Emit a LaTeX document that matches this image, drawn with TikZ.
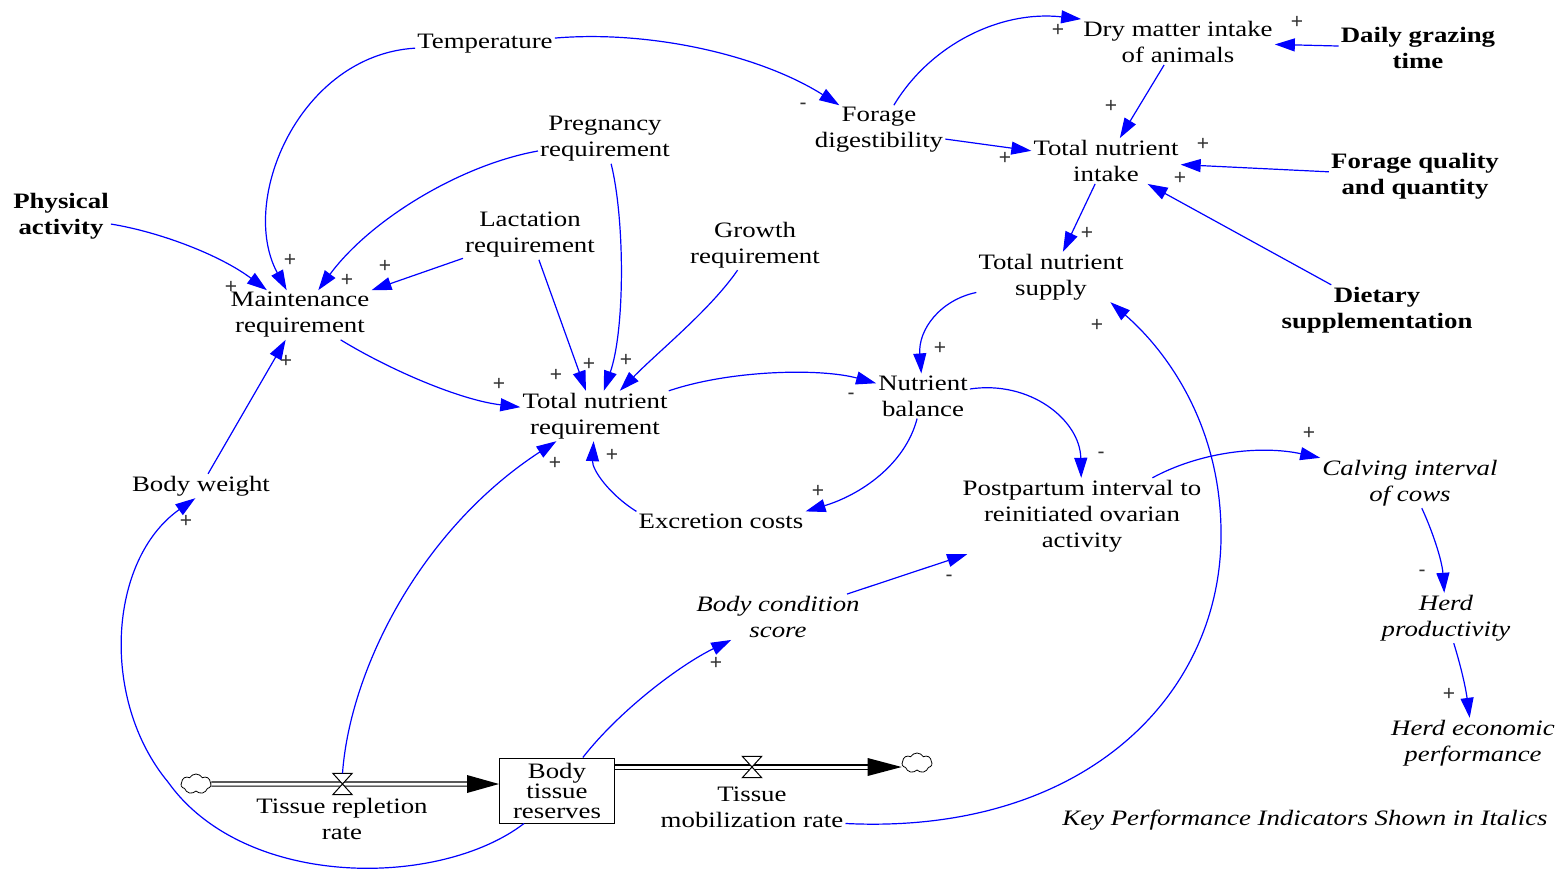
\documentclass[tikz,border=0pt]{standalone}
\usepackage{fontspec}
\setmainfont{Liberation Serif}[FakeStretch=1.22]
\newfontfamily\signfont{Liberation Sans}
\usetikzlibrary{arrows.meta,shapes.symbols,calc}
\tikzset{
  var/.style={align=center, inner sep=2pt, yshift=-3pt, font=\fontsize{22}{26}\selectfont},
  kpi/.style={var, font=\fontsize{22}{26}\selectfont\itshape},
  exo/.style={var, font=\fontsize{22}{26}\selectfont\bfseries},
  flowlabel/.style={align=center, inner sep=2pt, font=\fontsize{22}{26}\selectfont},
  stock/.style={draw, line width=1pt, align=center, inner sep=0pt, minimum width=115pt, minimum height=65pt, font=\fontsize{22}{20}\selectfont},
  link/.style={draw=blue, line width=1.2pt, -{Triangle[length=20pt,width=13pt]}},
  sign/.style={font=\signfont\fontsize{21}{21}\selectfont, text=black!80, inner sep=0pt},
  pipe/.style={draw, double, double distance=3pt, line width=1.2pt},
  cloudy/.style={cloud, draw, line width=0.8pt, cloud puffs=7, cloud puff arc=120, aspect=1.4, minimum width=30pt, minimum height=20pt, inner sep=0pt},
  valve/.style={minimum width=19pt, minimum height=21pt, inner sep=0pt}
}
\begin{document}
\begin{tikzpicture}[x=1pt,y=-1pt]
\useasboundingbox (0,0) rectangle (1564,868);
% variables
\node[var] (temp) at (485,41) {Temperature};
\node[var] (dmi) at (1178,39) {Dry matter intake\\of animals};
\node[exo] (dgt) at (1418,45) {Daily grazing\\time};
\node[var] (forage) at (879,127) {Forage\\digestibility};
\node[var] (tni) at (1106,158) {Total nutrient\\intake};
\node[exo] (fqq) at (1415,173) {Forage quality\\and quantity};
\node[var] (preg) at (605,136) {Pregnancy\\requirement};
\node[exo] (phys) at (61,213) {Physical\\activity};
\node[var] (lact) at (530,232) {Lactation\\requirement};
\node[var] (growth) at (755,242) {Growth\\requirement};
\node[var] (tns) at (1051,274) {Total nutrient\\supply};
\node[exo] (diet) at (1377,307) {Dietary\\supplementation};
\node[var] (maint) at (300,312) {Maintenance\\requirement};
\node[var] (nb) at (923,393) {Nutrient\\balance};
\node[var] (tnr) at (595,413) {Total nutrient\\requirement};
\node[kpi] (calv) at (1410,480) {Calving interval\\of cows};
\node[var] (bw) at (201,483) {Body weight};
\node[var] (ppi) at (1082,513) {Postpartum interval to\\reinitiated ovarian\\activity};
\node[var] (exc) at (721,518) {Excretion costs};
\node[kpi] (bcs) at (778,614) {Body condition\\score};
\node[kpi] (herd) at (1446,615) {Herd\\productivity};
\node[kpi] (hep) at (1473,740) {Herd economic\\performance};
\node[stock] (btr) at (557,790.5) {Body\\tissue\\reserves};
\node[flowlabel] (trr) at (342,819) {Tissue repletion\\rate};
\node[flowlabel] (tmr) at (752,807) {Tissue\\mobilization rate};
\node[kpi] (key) at (1305,817) {Key Performance Indicators Shown in Italics};
% clouds and valves
\node[cloudy] (cloudL) at (196,784) {};
\node[cloudy] (cloudR) at (917,763) {};
\node[valve] (valveL) at (342.5,784) {};
\node[valve] (valveR) at (752,767) {};
% flows
\draw[pipe] (cloudL.east) -- ($(btr.west |- valveL)+(-30,0)$);
\fill ($(btr.west |- valveL)+(-32,-9)$) -- (btr.west |- valveL) -- ($(btr.west |- valveL)+(-32,9)$) -- cycle;
\draw[pipe] (btr.east |- valveR) -- ($(cloudR.west |- valveR)+(-30,0)$);
\fill ($(cloudR.west |- valveR)+(-34,-9)$) -- (cloudR.west |- valveR) -- ($(cloudR.west |- valveR)+(-34,9)$) -- cycle;
\draw[fill=white, line width=1pt] (valveL.north west) -- (valveL.north east) -- (valveL.south west) -- (valveL.south east) -- cycle;
\draw[fill=white, line width=1pt] (valveR.north west) -- (valveR.north east) -- (valveR.south west) -- (valveR.south east) -- cycle;
% links
\draw[link] (temp) .. controls (300,55) and (238,200) .. (maint);
\draw[link] (temp) .. controls (650,30) and (760,55) .. (forage.148);
\draw[link] (forage) .. controls (930,45) and (1000,10) .. (dmi.north west);
\draw[link] (dgt) -- (dmi);
\draw[link] (dmi) -- (tni);
\draw[link] (forage) -- (tni);
\draw[link] (fqq) -- (tni);
\draw[link] (diet) -- (tni);
\draw[link] (tni) -- (tns);
\draw[link] (tns) .. controls (940,300) and (918,330) .. (nb);
\draw[link] (tmr.-10) .. controls (1080,835) and (1218,700) .. (1221,540) .. controls (1223,420) and (1160,345) .. (tns.-23);
\draw[link] (preg) .. controls (460,165) and (370,220) .. (maint);
\draw[link] (preg) .. controls (625,220) and (625,330) .. (tnr);
\draw[link] (lact) -- (maint);
\draw[link] (lact) -- (tnr);
\draw[link] (growth) .. controls (710,310) and (660,350) .. (tnr);
\draw[link] (phys) .. controls (160,232) and (220,255) .. (maint);
\draw[link] (bw) -- (maint);
\draw[link] (maint) .. controls (390,370) and (460,400) .. (tnr);
\draw[link] (tnr) .. controls (730,370) and (820,368) .. (nb);
\draw[link] (nb) .. controls (905,465) and (860,495) .. (exc.north east);
\draw[link] (exc.north west) .. controls (610,495) and (592,470) .. (tnr);
\draw[link] (valveL.north) .. controls (350,670) and (420,530) .. (tnr);
\draw[link] (nb) .. controls (1030,380) and (1080,420) .. (ppi);
\draw[link] (bcs) -- (ppi);
\draw[link] (btr) .. controls (620,710) and (680,665) .. (bcs);
\draw[link] (btr.-135) .. controls (440,888) and (245,890) .. (168,782) .. controls (100,700) and (108,560) .. (bw.-115);
\draw[link] (ppi) .. controls (1200,452) and (1260,445) .. (calv.north west);
\draw[link] (calv) .. controls (1432,530) and (1442,560) .. (herd);
\draw[link] (herd) .. controls (1462,670) and (1466,690) .. (hep);
% polarity signs
\node[sign] (s1) at (290,260) {+};
\node[sign] (s2) at (803,106) {-};
\node[sign] (s3) at (1058,30) {+};
\node[sign] (s4) at (1297,22) {+};
\node[sign] (s5) at (1111,106) {+};
\node[sign] (s6) at (1005,158) {+};
\node[sign] (s7) at (1203,144) {+};
\node[sign] (s8) at (1180,178) {+};
\node[sign] (s9) at (1087,233) {+};
\node[sign] (s10) at (940,348) {+};
\node[sign] (s11) at (1097,325) {+};
\node[sign] (s12) at (347,280) {+};
\node[sign] (s13) at (385,266) {+};
\node[sign] (s14) at (231,287) {+};
\node[sign] (s15) at (286,361) {+};
\node[sign] (s16) at (589,364) {+};
\node[sign] (s17) at (556,375) {+};
\node[sign] (s18) at (626,360) {+};
\node[sign] (s19) at (499,384) {+};
\node[sign] (s20) at (851,396) {-};
\node[sign] (s21) at (818,491) {+};
\node[sign] (s22) at (612,455) {+};
\node[sign] (s23) at (555,463) {+};
\node[sign] (s24) at (1101,455) {-};
\node[sign] (s25) at (949,578) {-};
\node[sign] (s26) at (716,663) {+};
\node[sign] (s27) at (186,521) {+};
\node[sign] (s28) at (1309,433) {+};
\node[sign] (s29) at (1422,573) {-};
\node[sign] (s30) at (1449,694) {+};
\end{tikzpicture}
\end{document}
